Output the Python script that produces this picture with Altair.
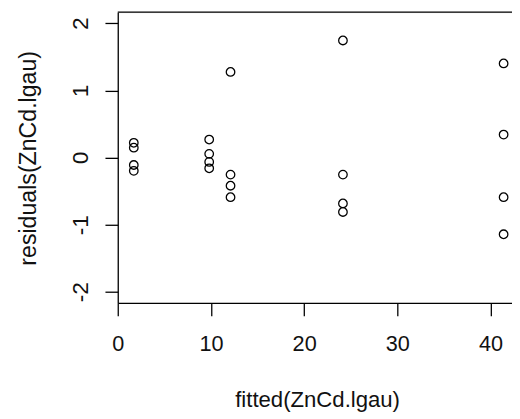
import altair as alt
import pandas as pd

fitted = [1.72, 1.72, 1.72, 1.72,
          9.81, 9.81, 9.81, 9.81,
          12.1, 12.1, 12.1, 12.1,
          24.16, 24.16, 24.16, 24.16,
          41.4, 41.4, 41.4, 41.4]
resid = [0.22, 0.147, -0.111, -0.198,
         0.268, 0.055, -0.065, -0.16,
         1.275, -0.254, -0.42, -0.591,
         1.744, -0.254, -0.684, -0.811,
         1.402, 0.342, -0.591, -1.143]
x_ticks = [0, 10, 20, 30, 40]
y_ticks = [-2, -1, 0, 1, 2]

df = pd.DataFrame({"fitted": fitted, "resid": resid})

W = 400.5
H = 295.4
FONT = "Liberation Sans"

points = alt.Chart(df).mark_point(
    shape="circle", filled=False, color="black", strokeWidth=1.3, size=75, opacity=1
).encode(
    x=alt.X("fitted:Q",
            scale=alt.Scale(domain=[0, 42.3], nice=False, zero=False),
            axis=alt.Axis(values=x_ticks, title="fitted(ZnCd.lgau)",
                          grid=False, tickSize=13, tickWidth=1.3, tickColor="black",
                          domainColor="black", domainWidth=1.3,
                          labelFont=FONT, labelFontSize=22, labelColor="#111",
                          labelPadding=18, labelBaseline="top", labelFlush=False,
                          labelExpr="'' + datum.value",
                          titleFont=FONT, titleFontSize=22.5, titleFontWeight="normal",
                          titleColor="#111", titleBaseline="alphabetic",
                          titleX=202.5, titleY=105, titleAlign="center")),
    y=alt.Y("resid:Q",
            scale=alt.Scale(domain=[-2.166, 2.166], nice=False, zero=False),
            axis=alt.Axis(values=y_ticks, title="residuals(ZnCd.lgau)",
                          grid=False, tickSize=13, tickWidth=1.3, tickColor="black",
                          domainColor="black", domainWidth=1.3,
                          labelFont=FONT, labelFontSize=23, labelColor="#111",
                          labelAngle=270, labelAlign="center", labelBaseline="alphabetic",
                          labelPadding=18, labelFlush=False,
                          labelExpr="'' + datum.value",
                          titleFont=FONT, titleFontSize=23.5, titleFontWeight="normal",
                          titleColor="#111", titleAngle=270, titleAlign="center",
                          titleBaseline="alphabetic", titleX=-83.5, titleY=148)),
)

top_border = alt.Chart(pd.DataFrame({"a": [0]})).mark_rule(
    color="black", strokeWidth=1.3
).encode(x=alt.value(0), x2=alt.value(W), y=alt.value(0))

chart = alt.layer(points, top_border).properties(
    width=W, height=H,
    autosize=alt.AutoSizeParams(type="none"),
    padding={"left": 111.5, "top": 1, "right": 0, "bottom": 110},
).configure_view(stroke=None).configure(background="white")

chart.save("out.html", embed_options={"renderer": "svg", "actions": False})
